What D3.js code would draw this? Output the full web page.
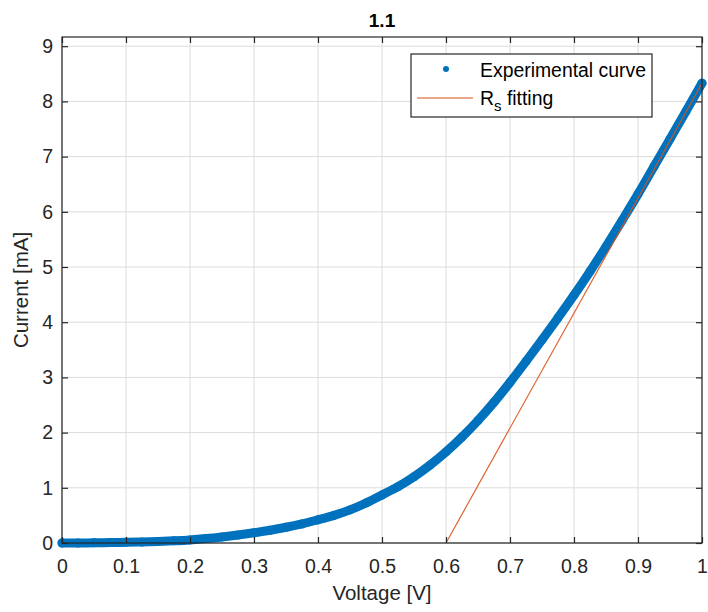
<!DOCTYPE html>
<html><head><meta charset="utf-8">
<script src="https://cdn.jsdelivr.net/npm/d3@7"></script>
<style>
html,body{margin:0;padding:0;background:#fff;}
svg{display:block;font-family:"Liberation Sans",Arial,sans-serif;}
</style></head>
<body><svg id="c" width="708" height="612"></svg>
<script>
// Data
const voltage = [0,0.025,0.05,0.075,0.1,0.125,0.15,0.175,0.2,0.225,0.25,0.275,0.3,0.325,0.35,0.375,0.4,0.425,0.45,0.475,0.5,0.525,0.55,0.575,0.6,0.625,0.65,0.675,0.7,0.725,0.75,0.775,0.8,0.825,0.85,0.875,0.9,0.925,0.95,0.975,1.0];
const current = [0,0.001,0.003,0.007,0.012,0.019,0.028,0.04,0.056,0.08,0.11,0.145,0.185,0.23,0.285,0.345,0.42,0.5,0.6,0.725,0.87,1.02,1.2,1.41,1.65,1.92,2.22,2.55,2.91,3.29,3.68,4.08,4.49,4.92,5.37,5.84,6.32,6.82,7.32,7.82,8.33];
const fitV = [0.6, 1.0];
const fitI = [0, 8.33];
const xTicks = [0,0.1,0.2,0.3,0.4,0.5,0.6,0.7,0.8,0.9,1];
const yTicks = [0,1,2,3,4,5,6,7,8,9];
const title = "1.1";
const xLabel = "Voltage [V]";
const yLabel = "Current [mA]";
const legendLabels = ["Experimental curve", "fitting"];

const svg = d3.select("#c");
const L=62, R=702, T=37, B=543;
const x = d3.scaleLinear().domain([0,1]).range([L,R]);
const y = d3.scaleLinear().domain([0,9]).range([B, B-9*55.2]);
const textCol = "#262626";
const blue = "#0072BD", orange = "#D95319";

// grid
const g = svg.append("g");
g.selectAll(".gx").data(xTicks).join("line")
  .attr("x1",d=>x(d)).attr("x2",d=>x(d)).attr("y1",T).attr("y2",B)
  .attr("stroke","#dcdcdc").attr("stroke-width",1);
g.selectAll(".gy").data(yTicks).join("line")
  .attr("x1",L).attr("x2",R).attr("y1",d=>y(d)).attr("y2",d=>y(d))
  .attr("stroke","#dcdcdc").attr("stroke-width",1);

// experimental curve (dense markers)
const pg = svg.append("g");
const pts = voltage.map((v,i)=>[v,current[i]]);
pg.append("path").datum(pts)
  .attr("d", d3.line().x(d=>x(d[0])).y(d=>y(d[1])).curve(d3.curveMonotoneX))
  .attr("fill","none").attr("stroke",blue).attr("stroke-width",9).attr("stroke-linecap","round").attr("stroke-linejoin","round");
pg.selectAll("circle").data(pts).join("circle")
  .attr("cx",d=>x(d[0])).attr("cy",d=>y(d[1])).attr("r",4.5).attr("fill",blue);

// fit line
svg.append("line")
  .attr("x1",x(fitV[0])).attr("y1",y(fitI[0])).attr("x2",x(fitV[1])).attr("y2",y(fitI[1]))
  .attr("stroke",orange).attr("stroke-width",1.2).attr("stroke-opacity",0.9);

// axes box
const axCol = "#262626";
svg.append("rect").attr("x",L).attr("y",T).attr("width",R-L).attr("height",B-T)
  .attr("fill","none").attr("stroke",axCol).attr("stroke-width",1.2);

const xAxisB = d3.axisBottom(x).tickValues(xTicks).tickSize(-6).tickPadding(16).tickFormat(d3.format("~g"));
const xAxisT = d3.axisTop(x).tickValues(xTicks).tickSize(-6).tickFormat("");
const yAxisL = d3.axisLeft(y).tickValues(yTicks).tickSize(-6).tickPadding(9).tickFormat(d3.format("d"));
const yAxisR = d3.axisRight(y).tickValues(yTicks).tickSize(-6).tickFormat("");
function style(sel){
  sel.select(".domain").remove();
  sel.selectAll(".tick line").attr("stroke",axCol).attr("stroke-width",1.2);
  sel.selectAll(".tick text").attr("fill",textCol).style("font-size","19.5px").style("font-family","'Liberation Sans',Arial,sans-serif");
}
svg.append("g").attr("transform",`translate(0,${B})`).call(xAxisB).call(style);
svg.append("g").attr("transform",`translate(0,${T})`).call(xAxisT).call(style);
svg.append("g").attr("transform",`translate(${L},0)`).call(yAxisL).call(style);
svg.append("g").attr("transform",`translate(${R},0)`).call(yAxisR).call(style);

// title & labels
svg.append("text").attr("x",(L+R)/2).attr("y",27).attr("text-anchor","middle")
  .attr("fill","#000").style("font-weight","bold").style("font-size","19px").text(title);
svg.append("text").attr("x",(L+R)/2).attr("y",600).attr("text-anchor","middle")
  .attr("fill",textCol).style("font-size","20.5px").text(xLabel);
svg.append("text").attr("transform",`translate(28,${(T+B)/2}) rotate(-90)`).attr("text-anchor","middle")
  .attr("fill",textCol).style("font-size","20.5px").text(yLabel);

// legend
const lg = svg.append("g");
lg.append("rect").attr("x",411).attr("y",54).attr("width",241).attr("height",63)
  .attr("fill","#fff").attr("stroke",axCol).attr("stroke-width",1.2);
lg.append("circle").attr("cx",446).attr("cy",69).attr("r",3).attr("fill",blue);
lg.append("text").attr("x",480).attr("y",77).attr("fill","#000").style("font-size","19.4px").text(legendLabels[0]);
lg.append("line").attr("x1",417).attr("x2",473).attr("y1",98).attr("y2",98).attr("stroke",orange).attr("stroke-width",1.2);
const t2 = lg.append("text").attr("x",480).attr("y",105).attr("fill","#000").style("font-size","19.4px");
t2.append("tspan").text("R");
t2.append("tspan").attr("dy",6).style("font-size","15px").text("s");
t2.append("tspan").attr("dy",-6).text(" " + legendLabels[1]);
</script></body></html>
